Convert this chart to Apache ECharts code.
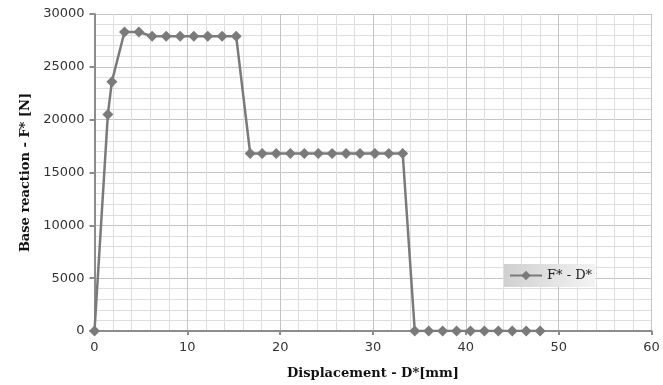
<!DOCTYPE html>
<html>
<head>
<meta charset="utf-8">
<script src="https://cdn.jsdelivr.net/npm/echarts@6/dist/echarts.min.js"></script>
<style>
  html, body { margin: 0; padding: 0; background: #fff; }
  #chart { width: 663px; height: 385px; }
</style>
</head>
<body>
<div id="chart"></div>
<script>
// Displacement D* [mm] and base reaction F* [N]
const displacement = [0, 1.44, 1.87, 3.23, 4.78, 6.21, 7.72, 9.23, 10.7, 12.2, 13.75, 15.26,
  16.77, 18.06, 19.57, 21.1, 22.6, 24.1, 25.6, 27.1, 28.6, 30.2, 31.7, 33.2,
  34.5, 36.0, 37.5, 39.0, 40.5, 42.0, 43.5, 45.0, 46.5, 48.0];
const baseReaction = [0, 20500, 23600, 28300, 28300, 27900, 27900, 27900, 27900, 27900, 27900, 27900,
  16800, 16800, 16800, 16800, 16800, 16800, 16800, 16800, 16800, 16800, 16800, 16800,
  0, 0, 0, 0, 0, 0, 0, 0, 0, 0];
const seriesName = 'F* - D*';

const chart = echarts.init(document.getElementById('chart'));
const axisGrey = '#8c8c8c';
const tickFont = { fontFamily: 'DejaVu Sans', fontSize: 13, color: '#333' };
const nameFont = { fontFamily: 'DejaVu Serif', fontWeight: 'bold', fontSize: 13, color: '#111' };

chart.setOption({
  animation: false,
  grid: { left: 94.5, right: 11.5, top: 14, bottom: 52, containLabel: false },
  xAxis: {
    type: 'value', min: 0, max: 60, interval: 10,
    name: 'Displacement - D*[mm]', nameLocation: 'middle', nameGap: 36,
    nameTextStyle: nameFont,
    axisLine: { show: true, onZero: false, lineStyle: { color: axisGrey, width: 2 } },
    axisTick: { show: true, length: 4, lineStyle: { color: axisGrey, width: 2 } },
    axisLabel: Object.assign({ margin: 10, formatter: v => String(v) }, tickFont),
    splitLine: { show: true, lineStyle: { color: '#c4c4c4', width: 1 } },
    minorTick: { show: false, splitNumber: 5 },
    minorSplitLine: { show: true, lineStyle: { color: '#dedede', width: 1 } }
  },
  yAxis: {
    type: 'value', min: 0, max: 30000, interval: 5000,
    name: 'Base reaction - F* [N]', nameLocation: 'middle', nameGap: 62,
    nameTextStyle: nameFont,
    axisLine: { show: true, lineStyle: { color: axisGrey, width: 2 } },
    axisTick: { show: true, length: 5, lineStyle: { color: axisGrey, width: 2 } },
    axisLabel: Object.assign({ margin: 10, formatter: v => String(v) }, tickFont),
    splitLine: { show: true, lineStyle: { color: '#c4c4c4', width: 1 } },
    minorTick: { show: false, splitNumber: 5 },
    minorSplitLine: { show: true, lineStyle: { color: '#dedede', width: 1 } }
  },
  legend: {
    show: true,
    left: 504, top: 264,
    itemWidth: 32, itemHeight: 12, itemGap: 2,
    padding: [5, 3, 5, 5],
    backgroundColor: new echarts.graphic.LinearGradient(0, 0, 1, 1, [
      { offset: 0, color: '#cfcfcf' }, { offset: 1, color: '#f4f4f4' }
    ]),
    textStyle: { fontFamily: 'DejaVu Serif', fontSize: 13, color: '#222' },
    data: [seriesName]
  },
  series: [{
    name: seriesName,
    type: 'line',
    data: displacement.map((d, i) => [d, baseReaction[i]]),
    symbol: 'diamond',
    symbolSize: 11,
    lineStyle: { color: '#7a7a7a', width: 2.5 },
    itemStyle: { color: '#7a7a7a' },
    z: 5
  }]
});
</script>
</body>
</html>
